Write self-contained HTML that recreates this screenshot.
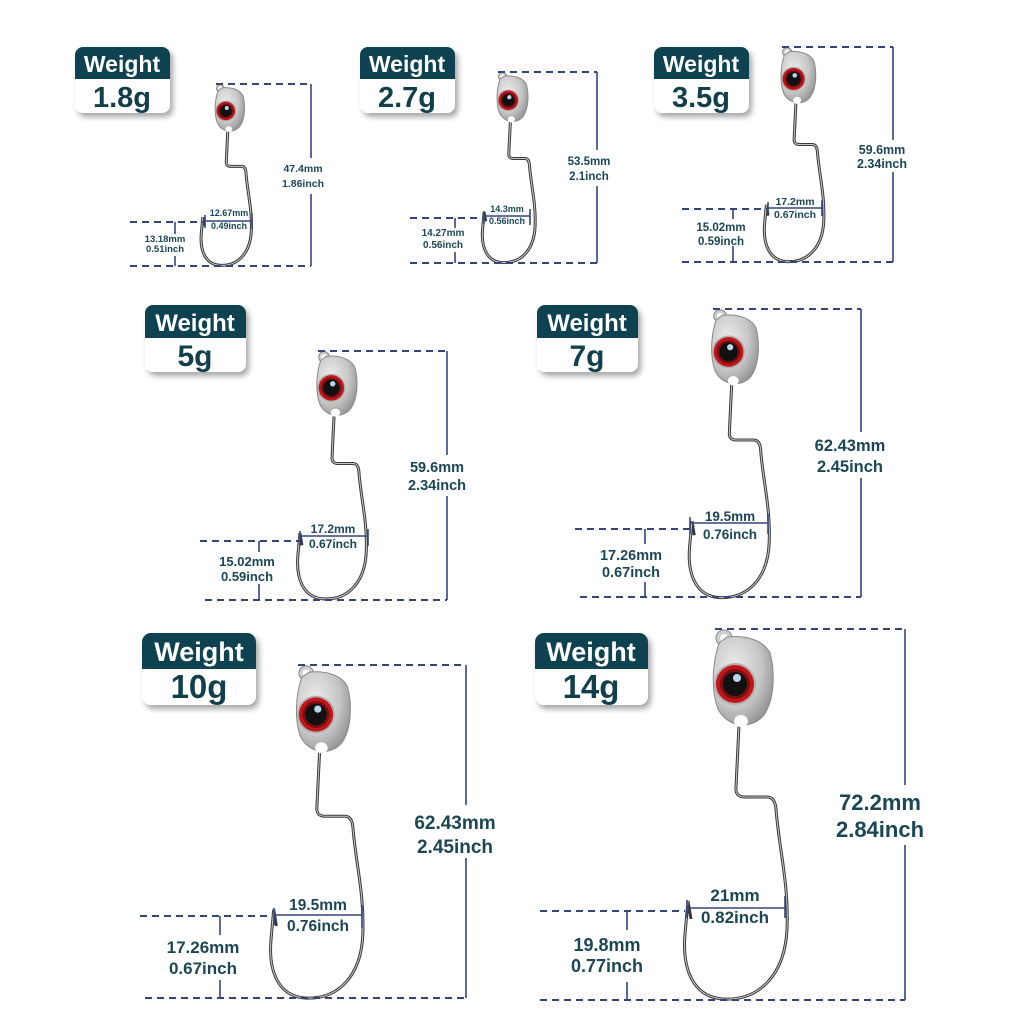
<!DOCTYPE html>
<html><head><meta charset="utf-8"><style>
html,body{margin:0;padding:0;background:#fff;}
svg{display:block;}
.wt{font-family:"Liberation Sans",sans-serif;font-weight:bold;fill:#fff;text-anchor:middle;}
.g{font-family:"Liberation Sans",sans-serif;font-weight:bold;fill:#123f4c;text-anchor:middle;}
.lb{font-family:"Liberation Sans",sans-serif;font-weight:bold;fill:#1b4655;text-anchor:middle;}
.d{stroke:#33457a;stroke-width:2;stroke-dasharray:7 5;fill:none;}
.s{stroke:#33457a;stroke-width:1.6;fill:none;}
</style></head><body>
<svg width="1024" height="1024" viewBox="0 0 1024 1024" xmlns="http://www.w3.org/2000/svg">
<defs>
<radialGradient id="hg" cx="0.35" cy="0.35" r="0.75"><stop offset="0" stop-color="#ececec"/><stop offset="0.6" stop-color="#c6c6c6"/><stop offset="1" stop-color="#8e8e8e"/></radialGradient>
<filter id="sh" x="-20%" y="-20%" width="150%" height="150%"><feDropShadow dx="3" dy="4" stdDeviation="3" flood-color="#000" flood-opacity="0.35"/></filter>
<g id="hook">
<path d="M24,96 L21,158 Q20,168 30,168 L52,168 Q60,168 61,180 C64,220 74,255 72,300 C70,345 45,372 8,370 C-22,368 -33,340 -30,305 L-27,272 L-24,290" fill="none" stroke="#3a3a3a" stroke-width="3" vector-effect="non-scaling-stroke"/>
<path d="M24,96 L21,158 Q20,168 30,168 L52,168 Q60,168 61,180 C64,220 74,255 72,300 C70,345 45,372 8,370 C-22,368 -33,340 -30,305 L-27,272" fill="none" stroke="#c8c8c8" stroke-width="1" vector-effect="non-scaling-stroke"/>
<circle cx="9" cy="9" r="8" fill="#cfcfcf" stroke="#888" stroke-width="1" vector-effect="non-scaling-stroke"/>
<circle cx="9" cy="9" r="4" fill="#fff"/>
<path d="M4,14 C-3,35 -4,62 3,80 C12,98 36,102 49,86 C60,70 60,42 55,24 C48,10 28,6 12,8 Z" fill="url(#hg)" stroke="#8a8a8a" stroke-width="1" vector-effect="non-scaling-stroke"/>
<ellipse cx="26" cy="92" rx="7" ry="6" fill="#fff"/>
<circle cx="20" cy="55" r="21" fill="#b0b0b0"/>
<circle cx="20" cy="55" r="19" fill="#c3141a"/>
<circle cx="20" cy="55" r="15" fill="#7a0f12"/>
<circle cx="20" cy="55" r="12" fill="#111"/>
<circle cx="22" cy="49" r="4" fill="#b9d6ee"/>
</g>
</defs>

<g filter="url(#sh)">
<rect x="75" y="47" width="95" height="66" rx="8" fill="#fff"/>
<rect x="360" y="47" width="95" height="66" rx="8" fill="#fff"/>
<rect x="654" y="47" width="95" height="66" rx="8" fill="#fff"/>
<rect x="145" y="305" width="101" height="67" rx="8" fill="#fff"/>
<rect x="537" y="305" width="101" height="67" rx="8" fill="#fff"/>
<rect x="142" y="633" width="114" height="72" rx="9" fill="#fff"/>
<rect x="535" y="633" width="113" height="72" rx="9" fill="#fff"/>
</g>
<path d="M75,79 V55 a8,8 0 0 1 8,-8 H162 a8,8 0 0 1 8,8 V79 Z" fill="#0f4250"/>
<path d="M360,79 V55 a8,8 0 0 1 8,-8 H447 a8,8 0 0 1 8,8 V79 Z" fill="#0f4250"/>
<path d="M654,79 V55 a8,8 0 0 1 8,-8 H741 a8,8 0 0 1 8,8 V79 Z" fill="#0f4250"/>
<path d="M145,338 V313 a8,8 0 0 1 8,-8 H238 a8,8 0 0 1 8,8 V338 Z" fill="#0f4250"/>
<path d="M537,338 V313 a8,8 0 0 1 8,-8 H630 a8,8 0 0 1 8,8 V338 Z" fill="#0f4250"/>
<path d="M142,669 V642 a9,9 0 0 1 9,-9 H247 a9,9 0 0 1 9,9 V669 Z" fill="#0f4250"/>
<path d="M535,669 V642 a9,9 0 0 1 9,-9 H639 a9,9 0 0 1 9,9 V669 Z" fill="#0f4250"/>
<text class="wt" x="122" y="72" font-size="23">Weight</text><text class="g" x="122" y="107" font-size="29">1.8g</text>
<text class="wt" x="407" y="72" font-size="23">Weight</text><text class="g" x="407" y="107" font-size="29">2.7g</text>
<text class="wt" x="701" y="72" font-size="23">Weight</text><text class="g" x="701" y="107" font-size="29">3.5g</text>
<text class="wt" x="195" y="331" font-size="24">Weight</text><text class="g" x="195" y="366" font-size="30">5g</text>
<text class="wt" x="587" y="331" font-size="24">Weight</text><text class="g" x="587" y="366" font-size="30">7g</text>
<text class="wt" x="199" y="661" font-size="27">Weight</text><text class="g" x="199" y="698" font-size="33">10g</text>
<text class="wt" x="591" y="661" font-size="27">Weight</text><text class="g" x="591" y="698" font-size="33">14g</text>

<use href="#hook" transform="translate(216,84) scale(0.49)"/>
<use href="#hook" transform="translate(498,72) scale(0.515)"/>
<use href="#hook" transform="translate(782,47) scale(0.58)"/>
<use href="#hook" transform="translate(318,351) scale(0.67)"/>
<use href="#hook" transform="translate(713,309) scale(0.78)"/>
<use href="#hook" transform="translate(298,665) scale(0.9)"/>
<use href="#hook" transform="translate(715,629) scale(1)"/>

<path class="d" d="M216,84 H311 M130,266 H311 M130,222 H205"/>
<path class="s" d="M311,84 V158 M311,194 V266 M175,222 V234 M175,256 V266 M205,215 V228 M252,213 V229 M205,221 H252"/>
<text class="lb" x="303" y="172" font-size="10.5">47.4mm</text><text class="lb" x="303" y="187" font-size="10.5">1.86inch</text>
<text class="lb" x="165" y="242" font-size="9.5">13.18mm</text><text class="lb" x="165" y="252" font-size="9.5">0.51inch</text>
<text class="lb" x="229" y="216" font-size="9">12.67mm</text><text class="lb" x="229" y="229" font-size="9">0.49inch</text>

<path class="d" d="M498,72 H597 M410,263 H597 M410,218 H484"/>
<path class="s" d="M597,72 V150 M597,186 V263 M455,218 V228 M455,252 V263 M484,211 V224 M530,209 V225 M484,216 H530"/>
<text class="lb" x="589" y="165" font-size="11.5">53.5mm</text><text class="lb" x="589" y="180" font-size="11.5">2.1inch</text>
<text class="lb" x="443" y="236" font-size="10">14.27mm</text><text class="lb" x="443" y="248" font-size="10">0.56inch</text>
<text class="lb" x="507" y="212" font-size="9">14.3mm</text><text class="lb" x="507" y="224" font-size="9">0.56inch</text>

<path class="d" d="M782,47 H893 M682,262 H893 M682,209 H768"/>
<path class="s" d="M893,47 V140 M893,172 V262 M733,209 V219 M733,246 V262 M768,202 V216 M822,200 V216 M768,208 H822"/>
<text class="lb" x="882" y="154" font-size="12.5">59.6mm</text><text class="lb" x="882" y="168" font-size="12.5">2.34inch</text>
<text class="lb" x="721" y="231" font-size="11.5">15.02mm</text><text class="lb" x="721" y="245" font-size="11.5">0.59inch</text>
<text class="lb" x="795" y="205" font-size="10.5">17.2mm</text><text class="lb" x="795" y="218" font-size="10.5">0.67inch</text>

<path class="d" d="M318,351 H447 M205,600 H447 M200,541 H300"/>
<path class="s" d="M447,351 V455 M447,496 V600 M259,541 V552 M259,584 V600 M300,531 V546 M368,529 V546 M300,536 H368"/>
<text class="lb" x="437" y="472" font-size="14.5">59.6mm</text><text class="lb" x="437" y="490" font-size="14.5">2.34inch</text>
<text class="lb" x="247" y="566" font-size="13">15.02mm</text><text class="lb" x="247" y="581" font-size="13">0.59inch</text>
<text class="lb" x="333" y="533" font-size="12">17.2mm</text><text class="lb" x="333" y="548" font-size="12">0.67inch</text>

<path class="d" d="M713,309 H861 M580,597 H861 M575,529 H690"/>
<path class="s" d="M861,309 V432 M861,478 V597 M645,529 V544 M645,582 V597 M690,517 V534 M768,514 V534 M690,523 H768"/>
<text class="lb" x="850" y="451" font-size="16.5">62.43mm</text><text class="lb" x="850" y="472" font-size="16.5">2.45inch</text>
<text class="lb" x="631" y="560" font-size="14.5">17.26mm</text><text class="lb" x="631" y="577" font-size="14.5">0.67inch</text>
<text class="lb" x="730" y="521" font-size="13.5">19.5mm</text><text class="lb" x="730" y="539" font-size="13.5">0.76inch</text>

<path class="d" d="M298,665 H466 M145,998 H466 M140,916 H270"/>
<path class="s" d="M466,665 V805 M466,858 V998 M220,916 V935 M220,980 V998 M274,908 V925 M362,905 V928 M274,915 H362"/>
<text class="lb" x="455" y="829" font-size="19">62.43mm</text><text class="lb" x="455" y="853" font-size="19">2.45inch</text>
<text class="lb" x="203" y="953" font-size="17">17.26mm</text><text class="lb" x="203" y="974" font-size="17">0.67inch</text>
<text class="lb" x="318" y="910" font-size="15.5">19.5mm</text><text class="lb" x="318" y="931" font-size="15.5">0.76inch</text>

<path class="d" d="M715,629 H905 M540,1000 H905 M540,911 H685"/>
<path class="s" d="M905,629 V785 M905,845 V1000 M627,911 V930 M627,982 V1000 M687,900 V918 M785,896 V918 M687,908 H785"/>
<text class="lb" x="880" y="810" font-size="22">72.2mm</text><text class="lb" x="880" y="837" font-size="22">2.84inch</text>
<text class="lb" x="607" y="951" font-size="18">19.8mm</text><text class="lb" x="607" y="972" font-size="18">0.77inch</text>
<text class="lb" x="735" y="901" font-size="17">21mm</text><text class="lb" x="735" y="923" font-size="17">0.82inch</text>
</svg>
</body></html>
